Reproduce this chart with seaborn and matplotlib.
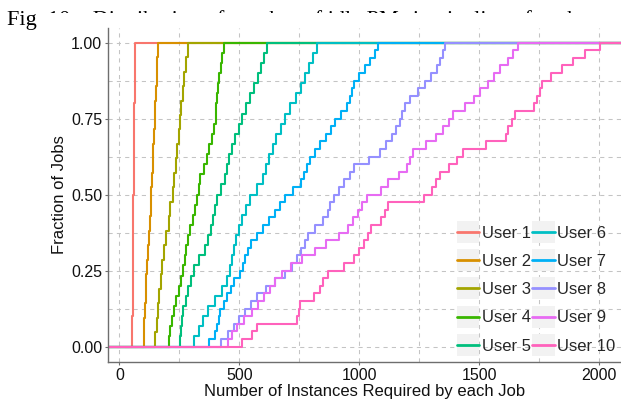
import numpy as np
import pandas as pd
import matplotlib
matplotlib.use("Agg")
import matplotlib.pyplot as plt
import seaborn as sns
from matplotlib.legend_handler import HandlerLine2D
from matplotlib.patches import Rectangle

# ---------------- data (instances required by each job, per user) ----------------
user1 = [53, 54, 55, 55, 56, 57, 57, 58, 59, 59, 60, 61, 61, 62, 63, 63, 64, 65, 66, 67]
user2 = [101, 103, 106, 110, 113, 117, 120, 123, 126, 130, 133, 136, 139, 141, 144, 147,
         149, 152, 155, 157, 160]
user3 = [150, 156, 162, 167, 172, 178, 188, 196, 205, 213, 222, 229, 236, 242, 248, 254,
         259, 264, 270, 277, 285]
user4 = [206, 212, 219, 228, 238, 248, 257, 265, 272, 279, 286, 295, 305, 315, 324, 330,
         337, 351, 364, 375, 386, 396, 401, 404, 408, 411, 416, 423, 430, 437]
user5 = [254, 258, 262, 267, 278, 288, 298, 310, 333, 355, 370, 380, 390, 400, 409, 425,
         440, 448, 458, 471, 484, 497, 512, 528, 545, 563, 577, 590, 603, 615]
user6 = [312, 330, 350, 370, 400, 430, 448, 460, 470, 478, 487, 497, 510, 528, 546, 575,
         598, 610, 625, 640, 655, 672, 690, 712, 735, 757, 775, 790, 808, 824]
user7 = [372, 400, 408, 415, 421, 435, 450, 465, 480, 504, 515, 525, 536, 550, 572, 597,
         625, 650, 670, 692, 725, 756, 770, 784, 796, 815, 838, 860, 882, 900, 925, 950,
         960, 968, 980, 1000, 1025, 1045, 1065, 1080]
user8 = [425, 455, 480, 500, 525, 550, 572, 610, 650, 692, 718, 742, 758, 772, 788, 815,
         850, 868, 880, 893, 915, 937, 960, 980, 1040, 1085, 1112, 1135, 1155, 1171, 1180,
         1190, 1210, 1245, 1275, 1300, 1325, 1338, 1348, 1358]
user9 = [455, 468, 490, 520, 553, 580, 605, 630, 650, 678, 715, 760, 815, 860, 915, 955,
         975, 995, 1012, 1032, 1090, 1120, 1165, 1200, 1210, 1225, 1280, 1320, 1350, 1375,
         1392, 1440, 1480, 1505, 1538, 1560, 1585, 1620, 1640, 1663]
user10 = [510, 555, 575, 740, 748, 754, 812, 835, 848, 871, 935, 978, 1000, 1020, 1035,
          1047, 1090, 1108, 1121, 1270, 1305, 1318, 1335, 1375, 1407, 1432, 1530, 1610,
          1620, 1635, 1650, 1728, 1740, 1752, 1761, 1800, 1845, 1892, 1942, 2004]

users = ["User 1", "User 2", "User 3", "User 4", "User 5",
         "User 6", "User 7", "User 8", "User 9", "User 10"]
values = [user1, user2, user3, user4, user5, user6, user7, user8, user9, user10]
palette = ["#F8766D", "#D89000", "#A3A500", "#39B600", "#00BF7D",
           "#00BFC4", "#00B0F6", "#9590FF", "#E76BF3", "#FF62BC"]
x_ticks = [0, 500, 1000, 1500, 2000]
y_ticks = [0.00, 0.25, 0.50, 0.75, 1.00]
y_ticklabels = ["0.00", "0.25", "0.50", "0.75", "1.00"]
PAD_LO, PAD_HI = -1000, 5000   # ECDF padded to -Inf / +Inf like stat_ecdf

# ---------------- ECDF table ----------------
rows = []
for u, v in zip(users, values):
    s = np.sort(np.asarray(v, dtype=float))
    n = len(s)
    xs = np.r_[PAD_LO, s, PAD_HI]
    ys = np.r_[0.0, np.arange(1, n + 1) / n, 1.0]
    for i, (a, b) in enumerate(zip(xs, ys)):
        rows.append((u, i, a, b))
df = pd.DataFrame(rows, columns=["user", "order", "x", "F"])

# ---------------- plot ----------------
sns.set_theme(style="white")
plt.rcParams["font.family"] = ["Liberation Sans", "DejaVu Sans"]

W, H = 621, 403
fig = plt.figure(figsize=(W / 100, H / 100), dpi=100)

# caption of the page that lies behind the chart
fig.text(7 / W, 1 - 25 / H, "Fig. 10.   Distribution of number of idle PMs in pipeline of each user",
         family=["Liberation Serif", "DejaVu Serif"], fontsize=16, color="black",
         ha="left", va="baseline", zorder=0)
fig.patches.append(Rectangle((37 / W, 0), 1, 1 - 12.5 / H, transform=fig.transFigure,
                             facecolor="white", edgecolor="none", zorder=0.5))

ax = fig.add_axes([108.3 / W, 1 - 361.7 / H, 1 - 108.3 / W, (361.7 - 27.5) / H])
ax.set_zorder(1)

sns.lineplot(data=df, x="x", y="F", hue="user", hue_order=users, palette=palette,
             estimator=None, sort=False, units=None, drawstyle="steps-post",
             linewidth=1.5, ax=ax, legend=True)

ax.set_xlim(-46, 2091)
ax.set_ylim(-0.05, 1.05)
ax.set_xticks(x_ticks)
ax.set_xticklabels([str(t) for t in x_ticks])
ax.set_yticks(y_ticks)
ax.set_yticklabels(y_ticklabels)
ax.set_xticks([250, 750, 1250, 1750], minor=True)
ax.set_yticks([0.125, 0.375, 0.625, 0.875], minor=True)

ax.grid(True, which="both", color="#C4C4C4", linestyle=(0, (4, 4)), linewidth=0.75)
ax.set_axisbelow(True)
for side in ["top", "right"]:
    ax.spines[side].set_visible(False)
for side in ["left", "bottom"]:
    ax.spines[side].set_color("#6E6E6E")
    ax.spines[side].set_linewidth(1.0)
ax.tick_params(axis="both", which="major", direction="out", length=2.5, width=0.8,
               color="#6E6E6E", labelsize=11.5, labelcolor="#111111", pad=2,
               left=True, bottom=True)
ax.tick_params(axis="both", which="minor", length=0)

ax.set_xlabel("Number of Instances Required by each Job", fontsize=12, color="#111111", labelpad=1)
ax.set_ylabel("Fraction of Jobs", fontsize=12, color="#111111", labelpad=3)


class KeyBoxHandler(HandlerLine2D):
    def create_artists(self, legend, orig_handle, xdescent, ydescent, width, height,
                       fontsize, trans):
        arts = super().create_artists(legend, orig_handle, xdescent, ydescent, width,
                                      height, fontsize, trans)
        rh = 1.32 * fontsize
        yc = height / 2 - ydescent
        rect = Rectangle((-xdescent, yc - rh / 2), width, rh, facecolor="#F2F2F2",
                         edgecolor="none", transform=trans)
        return [rect] + list(arts)


handles, labels = ax.get_legend_handles_labels()
for h in handles:
    h.set_linewidth(2.0)
ax.legend(handles, labels, ncol=2, loc="upper left",
          bbox_to_anchor=(456.7 / W, 1 - 225.5 / H), bbox_transform=fig.transFigure,
          frameon=False, fontsize=12, handlelength=1.35, handletextpad=0.15,
          columnspacing=0.1, labelspacing=0.8, borderpad=0, borderaxespad=0,
          handler_map={matplotlib.lines.Line2D: KeyBoxHandler()})

fig.savefig("out.png", dpi=100)
